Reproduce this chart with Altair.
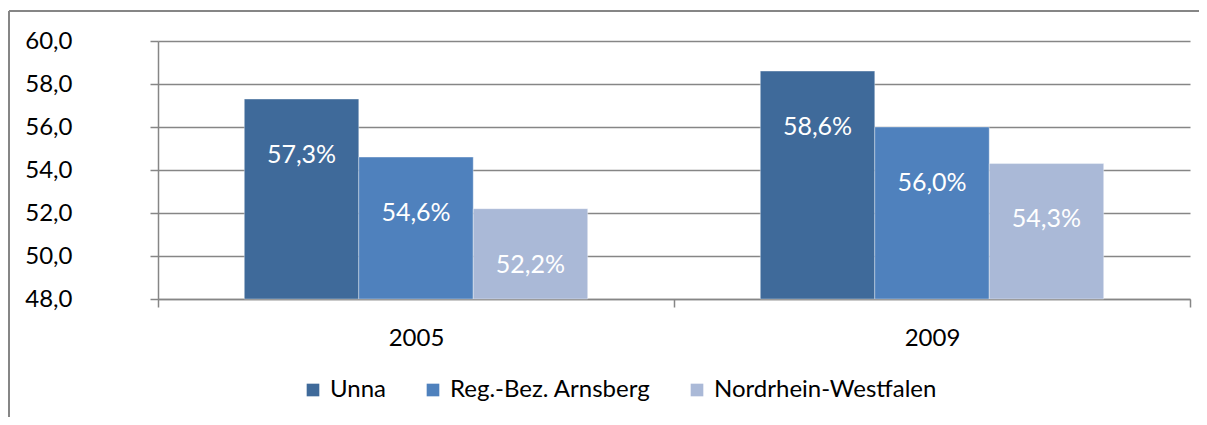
import altair as alt
import pandas as pd

years = ["2005", "2009"]
series = ["Unna", "Reg.-Bez. Arnsberg", "Nordrhein-Westfalen"]
values_2005 = [57.3, 54.6, 52.2]
values_2009 = [58.6, 56.0, 54.3]
colors = ["#3F6A9A", "#4F81BD", "#AAB9D7"]
y_ticks = [48, 50, 52, 54, 56, 58, 60]

rows = []
for yr, vals in zip(years, [values_2005, values_2009]):
    for s, v in zip(series, vals):
        rows.append({"year": yr, "series": s, "value": v})
df = pd.DataFrame(rows)
df["base"] = y_ticks[0]

FONT = "Lato"
W, H = 1032, 258

x_axis = alt.Axis(labelAngle=0, tickBand="extent", grid=False,
                  domainColor="#868686", domainWidth=1.5,
                  tickColor="#868686", tickWidth=1.5, tickSize=8,
                  labelPadding=19, labelFont=FONT, labelFontSize=24,
                  labelColor="#000000")
x_scale = alt.Scale(domain=years, paddingInner=0, paddingOuter=0)
xo_enc = alt.XOffset("series:N", sort=series,
                     scale=alt.Scale(domain=series, paddingInner=0, paddingOuter=0.754))
y_scale = alt.Scale(domain=[y_ticks[0], y_ticks[-1]], zero=False, nice=False)
y_axis = alt.Axis(values=y_ticks, labelExpr="replace(format(datum.value, '.1f'), '.', ',')",
                  grid=True, gridColor="#868686", gridWidth=1.5,
                  domainColor="#868686", domainWidth=1.5,
                  tickColor="#868686", tickWidth=1.5, tickSize=8,
                  labelPadding=78, labelFont=FONT, labelFontSize=24,
                  labelColor="#000000")

bars = alt.Chart(df).mark_bar(stroke="#ffffff", strokeWidth=0.8, strokeOpacity=0.45).encode(
    x=alt.X("year:N", scale=x_scale, title=None, axis=x_axis),
    xOffset=xo_enc,
    y=alt.Y("value:Q", scale=y_scale, title=None, axis=y_axis),
    y2="base:Q",
    color=alt.Color("series:N", sort=series,
                    scale=alt.Scale(domain=series, range=colors),
                    legend=alt.Legend(title=None, orient="none", direction="horizontal",
                                      legendX=143, legendY=337, symbolType="square",
                                      symbolSize=160, symbolStrokeWidth=0,
                                      labelFont=FONT, labelFontSize=24, labelColor="#000000",
                                      labelLimit=400, columnPadding=34, labelOffset=5)),
)

labels = alt.Chart(df).transform_calculate(
    pos="datum.value - 2.6",
    txt="replace(format(datum.value, '.1f'), '.', ',') + '%'"
).mark_text(color="#ffffff", font=FONT, fontSize=25, baseline="middle").encode(
    x=alt.X("year:N", scale=x_scale, title=None, axis=x_axis),
    xOffset=xo_enc,
    y=alt.Y("pos:Q", scale=y_scale, title=None, axis=y_axis),
    text="txt:N",
)

frame_left = alt.Chart(df).mark_rule(color="#868686", strokeWidth=1.5).encode(
    x=alt.value(-149), y=alt.value(-30), y2=alt.value(400))
frame_top = alt.Chart(df).mark_rule(color="#868686", strokeWidth=1.5).encode(
    x=alt.value(-149), x2=alt.value(1060), y=alt.value(-30))

chart = alt.layer(bars, labels, frame_left, frame_top).properties(
    width=W, height=H,
    autosize=alt.AutoSizeParams(type="none"),
    padding={"left": 150, "top": 33, "right": 9, "bottom": 118},
).configure_view(stroke=None)

chart.save("out.html", embed_options={"renderer": "svg", "actions": False})
